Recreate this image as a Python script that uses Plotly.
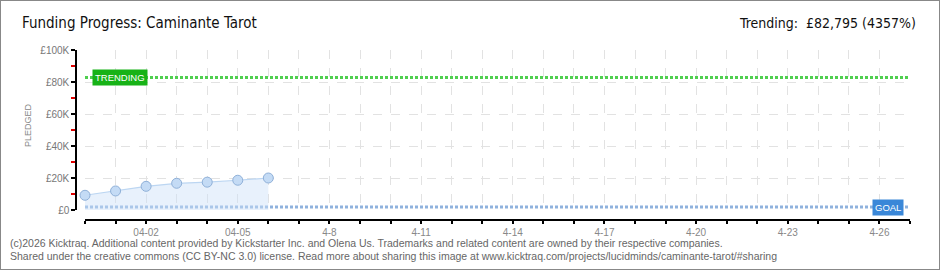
import plotly.graph_objects as go

# ---- data ----
dates = ["2026-03-31", "2026-04-01", "2026-04-02", "2026-04-03",
         "2026-04-04", "2026-04-05", "2026-04-06"]
pledged = [9200, 11900, 14800, 16700, 17400, 18600, 20000]
goal = 1900
trending = 82795
range_dates = ["2026-03-31", "2026-04-27"]
all_days = ["2026-03-31"] + [f"2026-04-{d:02d}" for d in range(1, 28)]
label_map = {"2026-04-02": "04-02", "2026-04-05": "04-05", "2026-04-08": "4-8",
             "2026-04-11": "4-11", "2026-04-14": "4-14", "2026-04-17": "4-17",
             "2026-04-20": "4-20", "2026-04-23": "4-23", "2026-04-26": "4-26"}
x_ticktext = [label_map.get(d, "") for d in all_days]
y_tickvals = [0, 20000, 40000, 60000, 80000, 100000]
y_ticktext = ["£0", "£20K", "£40K", "£60K", "£80K", "£100K"]

W, H = 940, 270
def px(x): return x / W
def py(y): return (H - y) / H

fig = go.Figure()

# goal line
fig.add_trace(go.Scatter(x=range_dates, y=[goal, goal], mode="lines",
                         line=dict(color="#8fb2dd", width=3, dash="3px,2px"),
                         hoverinfo="skip", cliponaxis=False))
# trending line
fig.add_trace(go.Scatter(x=range_dates, y=[trending, trending], mode="lines",
                         line=dict(color="#4fcf4f", width=3, dash="3px,2px"),
                         hoverinfo="skip", cliponaxis=False))
# pledged area
fig.add_trace(go.Scatter(x=dates, y=pledged, mode="lines+markers", fill="tozeroy",
                         fillcolor="rgba(205,225,248,0.45)",
                         line=dict(color="#bcd6f2", width=1.2),
                         marker=dict(size=10, color="#c4dbf5",
                                     line=dict(color="#8fb0d8", width=1)),
                         cliponaxis=False))

font_ax = "Liberation Sans, Arial, sans-serif"

fig.update_layout(
    width=W, height=H,
    margin=dict(l=0, r=0, t=0, b=0, autoexpand=False),
    paper_bgcolor="white", plot_bgcolor="white",
    showlegend=False,
    xaxis=dict(
        domain=[px(85), px(910)],
        type="date", range=range_dates,
        tickvals=all_days, ticktext=x_ticktext,
        anchor="free", position=py(220), automargin=False,
        showline=True, linecolor="black", linewidth=1.5,
        ticks="outside", ticklen=3, tickcolor="black", tickwidth=1.5,
        tickfont=dict(family=font_ax, size=10, color="#888"),
        showgrid=True, gridcolor="#e2e2e2", griddash="dash", gridwidth=1,
        zeroline=False, tickangle=0,
    ),
    yaxis=dict(
        domain=[py(210), py(50)],
        range=[0, 100000],
        tickvals=y_tickvals, ticktext=y_ticktext,
        anchor="free", position=px(76), automargin=False,
        showline=True, linecolor="black", linewidth=1.5,
        ticks="outside", ticklen=4, tickcolor="black", tickwidth=1.5,
        minor=dict(dtick=10000, tick0=0, ticks="outside", ticklen=4,
                   tickcolor="#e00000", tickwidth=1.5, showgrid=False),
        tickfont=dict(family=font_ax, size=10, color="#777"),
        showgrid=True, gridcolor="#e2e2e2", griddash="dash", gridwidth=1,
        zeroline=False,
    ),
)

title_font = "Liberation Sans Narrow, DejaVu Sans Condensed, sans-serif"
P = dict(xref="paper", yref="paper", showarrow=False)
ann = [
    dict(text="Funding Progress: Caminante Tarot", x=px(20), y=py(23),
         xanchor="left", yanchor="middle",
         font=dict(family=title_font, size=15, color="#111"), **P),
    dict(text="Trending:  £82,795 (4357%)", x=px(918), y=py(23),
         xanchor="right", yanchor="middle",
         font=dict(family=title_font, size=14, color="#111"), **P),
    dict(text="PLEDGED", x=px(28), y=py(125), textangle=-90,
         xanchor="center", yanchor="middle",
         font=dict(family=font_ax, size=9, color="#888"), **P),
    dict(text="(c)2026 Kicktraq. Additional content provided by Kickstarter Inc. and Olena Us. Trademarks and related content are owned by their respective companies.",
         x=px(8), y=py(243), xanchor="left", yanchor="middle",
         font=dict(family=font_ax, size=10.5, color="#666"), **P),
    dict(text="Shared under the creative commons (CC BY-NC 3.0) license. Read more about sharing this image at www.kicktraq.com/projects/lucidminds/caminante-tarot/#sharing",
         x=px(8), y=py(256), xanchor="left", yanchor="middle",
         font=dict(family=font_ax, size=10.5, color="#666"), **P),
    dict(text="TRENDING", x="2026-03-31", xref="x", y=trending, yref="y",
         xshift=7, xanchor="left", yanchor="middle", showarrow=False,
         bgcolor="#17b217", borderpad=2,
         font=dict(family=font_ax, size=9.5, color="white")),
    dict(text="GOAL", x="2026-04-27", xref="x", y=goal, yref="y",
         xshift=-6, yshift=-1, xanchor="right", yanchor="middle", showarrow=False,
         bgcolor="#3a87d8", borderpad=2,
         font=dict(family=font_ax, size=9.5, color="white")),
]
fig.update_layout(annotations=ann)

fig.add_shape(type="rect", xref="paper", yref="paper", x0=0, y0=0, x1=1, y1=1,
              line=dict(color="#888", width=2), fillcolor="rgba(0,0,0,0)")

fig.write_html("out.html")
